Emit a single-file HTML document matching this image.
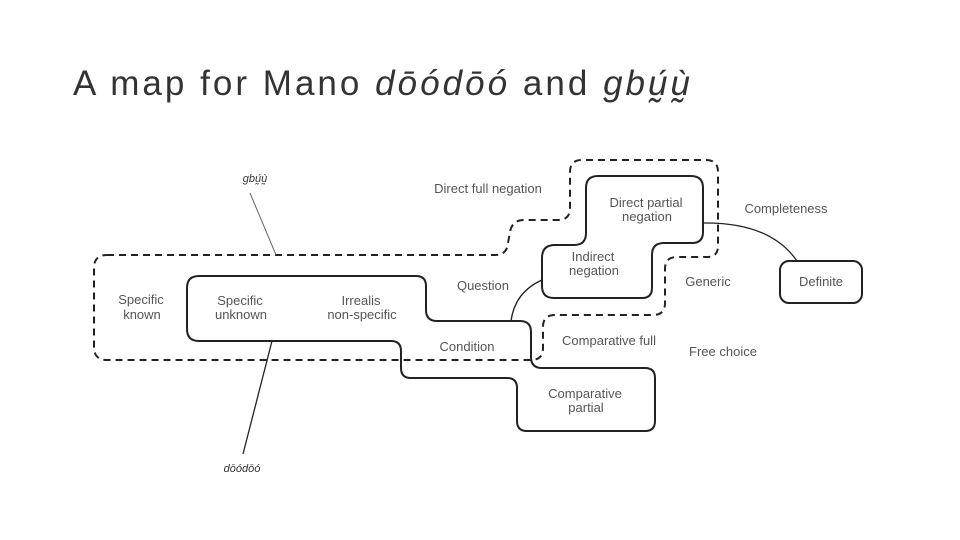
<!DOCTYPE html>
<html><head><meta charset="utf-8"><style>
body{margin:0;background:#fff;}
svg{display:block}
text{font-family:"Liberation Sans","DejaVu Sans",sans-serif;}
.l{font-size:13px;fill:#555;text-anchor:middle}
</style></head><body>
<svg width="960" height="540" viewBox="0 0 960 540">
<text x="73" y="95" textLength="617" lengthAdjust="spacing" style="font-size:35px;fill:#333">A map for Mano <tspan font-style="italic">dōódōó</tspan> and <tspan font-style="italic">gbṵ́ṵ̀</tspan></text>
<g fill="none" stroke="#222" stroke-width="2">
<path d="M200,276 H416 Q426,276 426,286 V310 Q426,321 437,321 H520 Q531,321 531,332 V357 Q531,368 542,368 H645 Q655,368 655,378 V421 Q655,431 645,431 H527 Q517,431 517,421 V388 Q517,378 507,378 H411 Q401,378 401,368 V351 Q401,341 391,341 H199 Q187,341 187,329 V288 Q187,276 199,276 Z"/>
<path d="M598,176 H691 Q703,176 703,188 V232 Q703,243 692,243 H664 Q652,243 652,255 V288 Q652,298 642,298 H554 Q542,298 542,286 V258 Q542,245 555,245 H574 Q586,245 586,233 V188 Q586,176 598,176 Z"/>
<path stroke-dasharray="7,5" d="M107,255 H495 Q507,255 508,243 L510,232 Q512,220 524,220 H558 Q570,220 570,208 V172 Q570,160 582,160 H706 Q718,160 718,172 V246 Q718,257 707,257 H677 Q665,257 665,269 V303 Q665,315 653,315 H555 Q543,315 543,327 V348 Q543,360 531,360 H107 Q94,360 94,347 V268 Q94,255 107,255 Z"/>
<rect x="780" y="261" width="82" height="42" rx="9"/>
</g>
<g fill="none" stroke="#222" stroke-width="1.3">
<path d="M703,223 Q770,222 797,261"/>
<path d="M542,280 Q515,292 511,321"/>
<line x1="250" y1="193" x2="276" y2="255" stroke="#666" stroke-width="1"/>
<line x1="272" y1="341" x2="243" y2="454"/>
</g>
<text x="255" y="182" class="l" style="font-style:italic;fill:#333;font-size:11px">gbṵ́ṵ̀</text>
<text x="242" y="472" class="l" style="font-style:italic;fill:#333;font-size:11px">dōódōó</text>
<text class="l" x="141" y="304">Specific</text><text class="l" x="142" y="319">known</text>
<text class="l" x="240" y="305">Specific</text><text class="l" x="241" y="319">unknown</text>
<text class="l" x="361" y="305">Irrealis</text><text class="l" x="362" y="319">non-specific</text>
<text class="l" x="483" y="290">Question</text>
<text class="l" x="467" y="351">Condition</text>
<text class="l" x="488" y="193">Direct full negation</text>
<text class="l" x="646" y="207">Direct partial</text><text class="l" x="647" y="221">negation</text>
<text class="l" x="593" y="261">Indirect</text><text class="l" x="594" y="275">negation</text>
<text class="l" x="786" y="213">Completeness</text>
<text class="l" x="708" y="286">Generic</text>
<text class="l" x="821" y="286">Definite</text>
<text class="l" x="609" y="345">Comparative full</text>
<text class="l" x="723" y="356">Free choice</text>
<text class="l" x="585" y="398">Comparative</text><text class="l" x="586" y="412">partial</text>
</svg>
</body></html>
